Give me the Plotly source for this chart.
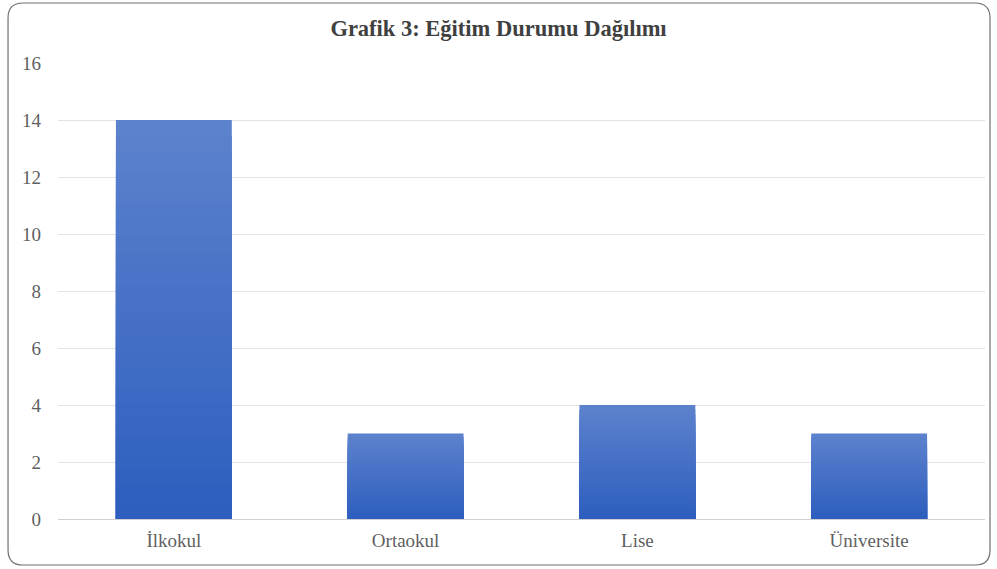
import plotly.graph_objects as go

categories = ["İlkokul", "Ortaokul", "Lise", "Üniversite"]
counts = [14, 3, 4, 3]
y_ticks = [0, 2, 4, 6, 8, 10, 12, 14, 16]

# gradient styling (per-bar, light top -> dark bottom), built from the data
n_steps = 24
top_rgb = (92, 130, 205)
bot_rgb = (46, 94, 190)

fig = go.Figure()
for k in range(n_steps):
    frac = (n_steps - k) / n_steps
    t = k / (n_steps - 1)
    c = tuple(round(top_rgb[i] + (bot_rgb[i] - top_rgb[i]) * t) for i in range(3))
    fig.add_trace(go.Bar(
        x=categories,
        y=[v * frac for v in counts],
        marker=dict(color="rgb(%d,%d,%d)" % c, line=dict(width=0)),
        hoverinfo="skip" if k else None,
        showlegend=False,
        name="Kişi Sayısı",
    ))

serif = "Liberation Serif, Times New Roman, serif"

fig.update_layout(
    width=997, height=569,
    barmode="overlay",
    bargap=0.5,
    plot_bgcolor="white", paper_bgcolor="white",
    margin=dict(l=58, r=12, t=63, b=50),
    title=dict(text="<b>Grafik 3: Eğitim Durumu Dağılımı</b>",
               x=0.5, xref="container", xanchor="center", y=0.951, yanchor="middle",
               font=dict(family=serif, size=22.5, color="#404040")),
    font=dict(family=serif, size=18, color="#595959"),
    xaxis=dict(showgrid=False, showline=True, linecolor="#d0d0d0", linewidth=1,
               ticks="", ticklabelstandoff=4,
               tickfont=dict(family=serif, size=19, color="#5f5f5f")),
    yaxis=dict(range=[0, 16], tickvals=y_ticks, showgrid=True, gridcolor="#e3e3e3",
               gridwidth=1, zeroline=False, showline=False, ticks="",
               ticklabelstandoff=16,
               tickfont=dict(family=serif, size=19, color="#5f5f5f")),
    shapes=[dict(
        type="path", xref="paper", yref="paper",
        path=("M -0.0378,1.1316 L 0.9892,1.1316 Q 1.0054,1.1316 1.0054,1.0987 "
              "L 1.0054,-0.0680 Q 1.0054,-0.1009 0.9892,-0.1009 "
              "L -0.0378,-0.1009 Q -0.0539,-0.1009 -0.0539,-0.0680 "
              "L -0.0539,1.0987 Q -0.0539,1.1316 -0.0378,1.1316 Z"),
        line=dict(color="#707070", width=1.2), fillcolor="rgba(0,0,0,0)", layer="below")],
)

fig.write_html("out.html", config={"displayModeBar": False},
               post_script="document.body.style.margin='0px';")
